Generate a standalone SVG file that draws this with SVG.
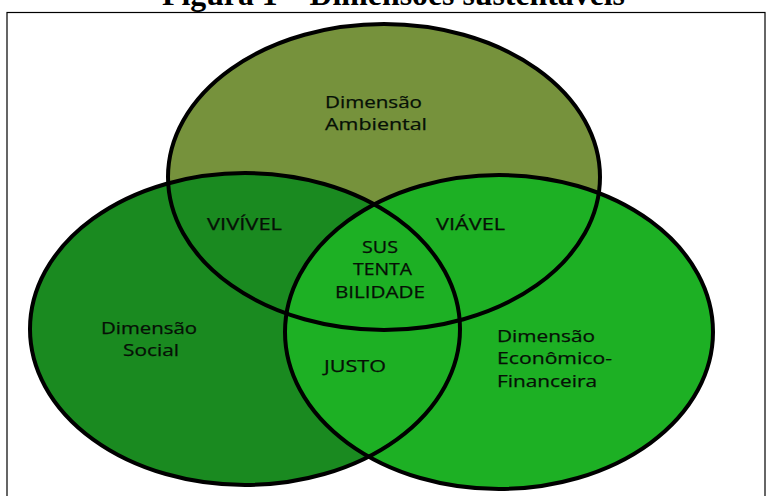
<svg xmlns="http://www.w3.org/2000/svg" width="767" height="496" viewBox="0 0 767 496">
<style>
.lbl{font-family:"Open Sans","Noto Sans","DejaVu Sans",sans-serif;font-size:16px;fill:#061006;stroke:#061006;stroke-width:0.25}
.ring{fill:none;stroke:#000;stroke-width:4}
.title{font-family:"Liberation Serif","Times New Roman",serif;font-weight:bold;font-size:31px;fill:#000}
</style>
<rect x="0" y="0" width="767" height="496" fill="#fff"/>
<text class="title" x="162" y="5" textLength="463" lengthAdjust="spacingAndGlyphs">Figura 1 – Dimensões sustentáveis</text>
<rect x="7" y="12.5" width="758" height="500" fill="none" stroke="#000" stroke-width="1.2"/>
<g id="fills">
<ellipse id="fill-ambiental" cx="384" cy="177" rx="216" ry="153" fill="#76923c"/>
<ellipse id="fill-social" cx="245" cy="329" rx="215" ry="156" fill="#1a8a20"/>
<ellipse id="fill-economico" cx="499" cy="332" rx="214" ry="157" fill="#1db024"/>
</g>
<g id="outlines">
<ellipse class="ring" cx="384" cy="177" rx="216" ry="153"/>
<ellipse class="ring" cx="245" cy="329" rx="215" ry="156"/>
<ellipse class="ring" cx="499" cy="332" rx="214" ry="157"/>
</g>
<g id="ambiental">
<text class="lbl" x="325" y="108" textLength="97" lengthAdjust="spacingAndGlyphs">Dimensão</text>
<text class="lbl" x="325" y="130" textLength="102" lengthAdjust="spacingAndGlyphs">Ambiental</text>
</g>
<g id="social">
<text class="lbl" x="101" y="334" textLength="96" lengthAdjust="spacingAndGlyphs">Dimensão</text>
<text class="lbl" x="123" y="356" textLength="56" lengthAdjust="spacingAndGlyphs">Social</text>
</g>
<g id="economico">
<text class="lbl" x="497" y="342" textLength="98" lengthAdjust="spacingAndGlyphs">Dimensão</text>
<text class="lbl" x="497" y="364" textLength="115" lengthAdjust="spacingAndGlyphs">Econômico-</text>
<text class="lbl" x="497" y="387" textLength="100" lengthAdjust="spacingAndGlyphs">Financeira</text>
</g>
<g id="vivivel">
<text class="lbl" x="207" y="230" textLength="75" lengthAdjust="spacingAndGlyphs">VIVÍVEL</text>
</g>
<g id="viavel">
<text class="lbl" x="436" y="230" textLength="69" lengthAdjust="spacingAndGlyphs">VIÁVEL</text>
</g>
<g id="sustentabilidade">
<text class="lbl" x="362" y="253" textLength="36" lengthAdjust="spacingAndGlyphs">SUS</text>
<text class="lbl" x="353" y="275" textLength="59" lengthAdjust="spacingAndGlyphs">TENTA</text>
<text class="lbl" x="335" y="298" textLength="90" lengthAdjust="spacingAndGlyphs">BILIDADE</text>
</g>
<g id="justo">
<text class="lbl" x="324" y="372" textLength="62" lengthAdjust="spacingAndGlyphs">JUSTO</text>
</g>
</svg>
